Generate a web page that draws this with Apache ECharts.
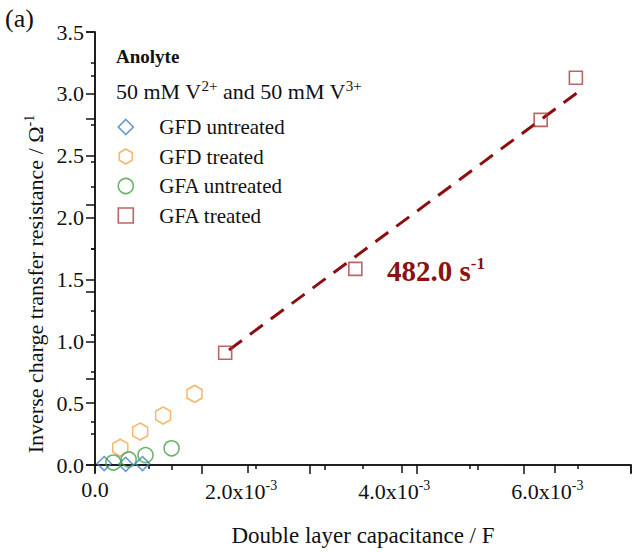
<!DOCTYPE html>
<html>
<head>
<meta charset="utf-8">
<script src="https://cdn.jsdelivr.net/npm/echarts@6/dist/echarts.min.js"></script>
<style>
  html, body { margin: 0; padding: 0; background: #fff; }
  #chart { width: 634px; height: 552px; }
</style>
</head>
<body>
<div id="chart"></div>
<script>
// --- data ---
var gfdUntreatedX = [0.12e-3, 0.40e-3, 0.62e-3];
var gfdUntreatedY = [0.012, 0.006, 0.012];
var gfdTreatedX = [0.33e-3, 0.59e-3, 0.89e-3, 1.30e-3];
var gfdTreatedY = [0.14, 0.27, 0.40, 0.575];
var gfaUntreatedX = [0.24e-3, 0.44e-3, 0.66e-3, 1.00e-3];
var gfaUntreatedY = [0.02, 0.045, 0.08, 0.135];
var gfaTreatedX = [1.70e-3, 3.40e-3, 5.82e-3, 6.28e-3];
var gfaTreatedY = [0.907, 1.585, 2.79, 3.13];
var fitX = [1.75e-3, 6.30e-3];
var fitY = [0.93, 3.01];
var seriesNames = ['GFD untreated', 'GFD treated', 'GFA untreated', 'GFA treated'];
var xTickLabels = { 0: '0.0', 2: '{m|2.0x10}{s|-3}', 4: '{m|4.0x10}{s|-3}', 6: '{m|6.0x10}{s|-3}' };

var serif = '"Liberation Serif", "Times New Roman", serif';
var hexagon = 'path://M0,-10L8.66,-5L8.66,5L0,10L-8.66,5L-8.66,-5Z';
var colBlue = '#3f7fc4', colOrange = '#f2a64a', colGreen = '#47a047', colRed = '#a8403f';
var ink = '#111';

function pairs(xs, ys) { return xs.map(function (x, i) { return [x, ys[i]]; }); }
function hollow(c) { return { color: 'transparent', borderColor: c, borderWidth: 1.6 }; }

var chart = echarts.init(document.getElementById('chart'), null, { renderer: 'svg' });
chart.setOption({
  animation: false,
  textStyle: { fontFamily: serif },
  grid: { left: 95, right: 1, top: 32, bottom: 80 },
  xAxis: [{
    type: 'value', min: 0, max: 7e-3, interval: 2e-3,
    axisLine: { lineStyle: { color: ink, width: 1.5 } },
    axisTick: { show: true, length: 8, lineStyle: { color: ink, width: 1.5 } },
    minorTick: { show: true, splitNumber: 2, length: 5, lineStyle: { color: ink, width: 1.5 } },
    splitLine: { show: false },
    axisLabel: {
      color: ink, fontSize: 22, fontFamily: serif, margin: 13,
      formatter: function (v) { return xTickLabels[Math.round(v * 1000)] || ''; },
      rich: { m: { fontSize: 22, fontFamily: serif, color: ink }, s: { fontSize: 14, fontFamily: serif, color: ink, verticalAlign: 'top', padding: [0, 14, 12, 0] } }
    },
    name: 'Double layer capacitance / F', nameLocation: 'middle', nameGap: 59,
    nameTextStyle: { color: ink, fontSize: 23, fontFamily: serif }
  }, {
    type: 'value', position: 'top', min: 0, max: 5, interval: 1,
    axisLine: { show: true, lineStyle: { color: ink, width: 1.5 } },
    axisTick: { show: true, inside: true, length: 9, lineStyle: { color: ink, width: 1.5 } },
    minorTick: { show: true, splitNumber: 2, length: 4, lineStyle: { color: ink, width: 1.5 } },
    axisLabel: { show: false }, splitLine: { show: false }
  }],
  yAxis: [{
    type: 'value', min: 0, max: 3.5, interval: 0.5,
    axisLine: { show: true, lineStyle: { color: ink, width: 1.5 } },
    axisTick: { show: true, length: 9, lineStyle: { color: ink, width: 1.5 } },
    minorTick: { show: true, splitNumber: 2, length: 4, lineStyle: { color: ink, width: 1.5 } },
    splitLine: { show: false },
    axisLabel: { color: ink, fontSize: 22, fontFamily: serif, margin: 11, formatter: function (v) { return v.toFixed(1); } }
  }, {
    type: 'value', position: 'right', min: 0, max: 5, interval: 1,
    axisLine: { show: true, lineStyle: { color: ink, width: 1.5 } },
    axisTick: { show: true, inside: true, length: 9, lineStyle: { color: ink, width: 1.5 } },
    minorTick: { show: true, splitNumber: 2, length: 4, lineStyle: { color: ink, width: 1.5 } },
    axisLabel: { show: false }, splitLine: { show: false }
  }],
  legend: {
    orient: 'vertical', left: 117.5, top: 116.5, padding: 0, itemWidth: 15, itemHeight: 15, itemGap: 8.5,
    textStyle: { color: ink, fontSize: 21, lineHeight: 21, fontFamily: serif, padding: [0, 0, 0, 21] },
    data: [
      { name: seriesNames[0], icon: 'diamond', itemStyle: hollow(colBlue) },
      { name: seriesNames[1], icon: hexagon, itemStyle: hollow(colOrange) },
      { name: seriesNames[2], icon: 'circle', itemStyle: hollow(colGreen) },
      { name: seriesNames[3], icon: 'rect', itemStyle: hollow(colRed) }
    ]
  },
  graphic: [
    { type: 'text', left: 5, top: 5, style: { text: '(a)', font: '26px ' + serif, fill: ink } },
    { type: 'text', left: 116, top: 47, style: { text: 'Anolyte', font: 'bold 19px ' + serif, fill: ink } },
    { type: 'text', left: 116, top: 78, style: {
      text: '50 mM V{s|2+} and 50 mM V{s|3+}', font: '22px ' + serif, fill: ink,
      rich: { s: { fontSize: 15, fontFamily: serif, fill: ink, verticalAlign: 'top', padding: [0, 0, 12, 0] } } } },
    { type: 'text', x: 35, y: 284, rotation: Math.PI / 2, style: {
      text: 'Inverse charge transfer resistance / Ω{s|-1}', font: '22px ' + serif, fill: ink,
      align: 'center', verticalAlign: 'middle',
      rich: { s: { fontSize: 14, fontFamily: serif, fill: ink, verticalAlign: 'top', padding: [0, 0, 12, 0] } } } },
    { type: 'text', left: 387, top: 255, style: {
      text: '482.0 s{s|-1}', font: 'bold 29px ' + serif, fill: '#8b1212',
      rich: { s: { fontSize: 17, fontWeight: 'bold', fontFamily: serif, fill: '#8b1212', verticalAlign: 'top', padding: [0, 0, 15, 0] } } } }
  ],
  series: [
    { name: 'fit', type: 'line', data: pairs(fitX, fitY), symbol: 'none', silent: true,
      lineStyle: { color: '#8b0f0f', width: 3, type: [16, 10] }, z: 1 },
    { name: seriesNames[0], type: 'scatter', data: pairs(gfdUntreatedX, gfdUntreatedY), symbol: 'diamond', symbolSize: 14, itemStyle: hollow(colBlue), z: 2 },
    { name: seriesNames[1], type: 'scatter', data: pairs(gfdTreatedX, gfdTreatedY), symbol: hexagon, symbolSize: [15, 17], itemStyle: hollow(colOrange), z: 3 },
    { name: seriesNames[2], type: 'scatter', data: pairs(gfaUntreatedX, gfaUntreatedY), symbol: 'circle', symbolSize: 15, itemStyle: hollow(colGreen), z: 4 },
    { name: seriesNames[3], type: 'scatter', data: pairs(gfaTreatedX, gfaTreatedY), symbol: 'rect', symbolSize: 13, itemStyle: hollow(colRed), z: 5 }
  ]
});
</script>
</body>
</html>
